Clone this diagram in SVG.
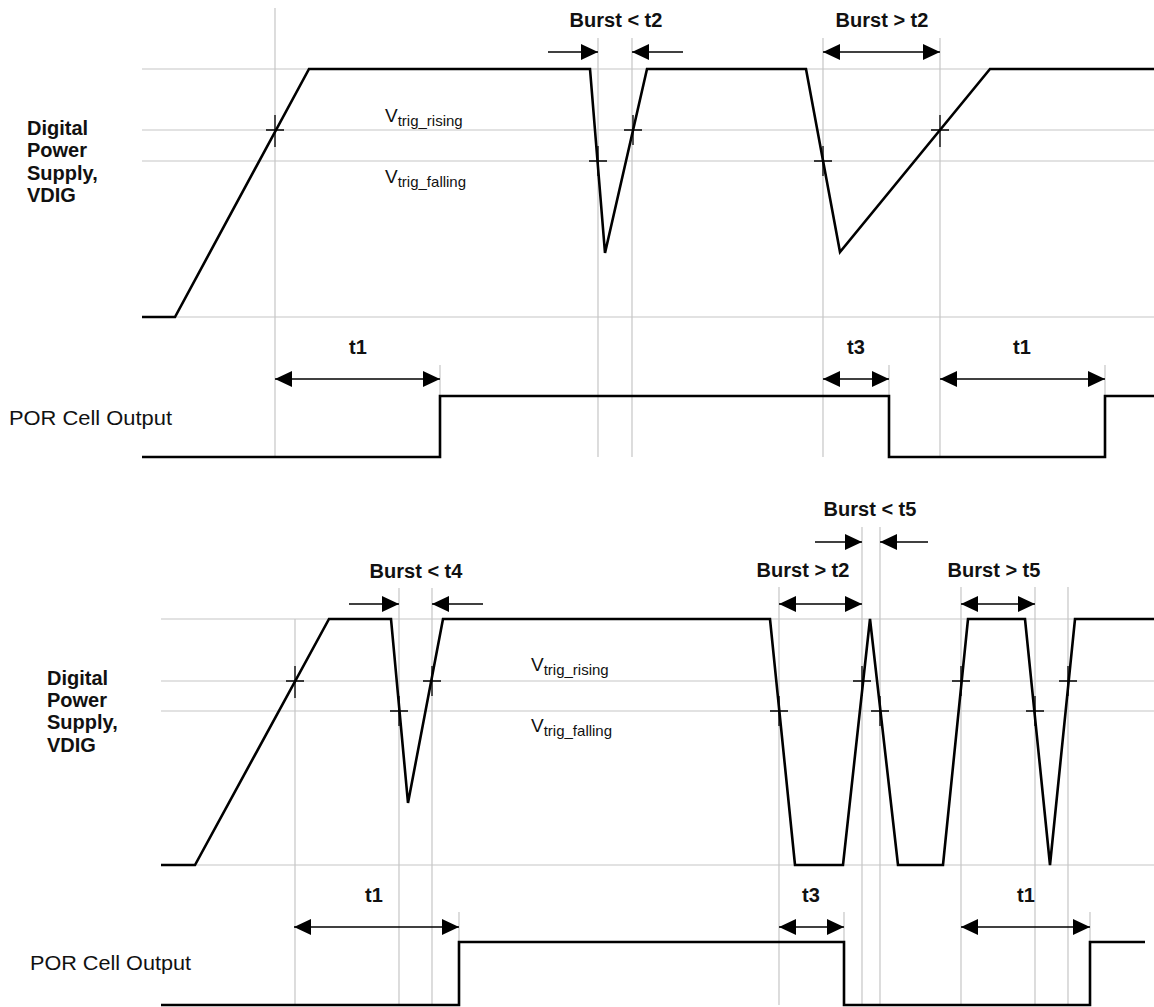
<svg xmlns="http://www.w3.org/2000/svg" width="1154" height="1007" viewBox="0 0 1154 1007">
<style>
.grid{stroke:#c6c6c6;stroke-width:1.2;fill:none}
.sig{stroke:#000;stroke-width:2.6;fill:none;stroke-linejoin:miter}
.tick{stroke:#000;stroke-width:1.3;fill:none}
.arr{stroke:#000;stroke-width:1.7;fill:none}
.lbl{font-family:"Liberation Sans",Arial,sans-serif;font-size:20px;font-weight:bold;fill:#111}
.por{font-family:"Liberation Sans",Arial,sans-serif;font-size:20px;fill:#111}
.v{font-family:"Liberation Sans",Arial,sans-serif;font-size:19px;fill:#111}
.sub{font-size:15px}
</style>
<defs>
<marker id="ah" viewBox="0 0 17 16" refX="17" refY="8" markerWidth="17" markerHeight="16" markerUnits="userSpaceOnUse" orient="auto-start-reverse">
<path d="M0,0 L17,8 L0,16 z" fill="#000"/>
</marker>
</defs>
<rect width="1154" height="1007" fill="#fff"/>

<g id="top-grid" class="grid">
<path d="M142,69H1154M142,130H1154M142,161H1154M142,317H1154"/>
<path d="M275,8V457M598,38V457M632,38V457M823,38V457M940,38V457"/>
<path d="M440,365V396M889,365V396M1105,365V396"/>
</g>
<g id="bottom-grid" class="grid">
<path d="M161,619H1154M161,681H1154M161,711H1154M161,865H1154"/>
<path d="M295,619V1005M399,588V1005M432,588V1005M779,587V1005M862,527V1005M880,527V1005M961,587V1005M1035,587V1005M1068,587V1005"/>
<path d="M459,912V942M844,912V942M1090,912V942"/>
</g>

<g id="top-vdig">
<path class="sig" d="M142,317L175,317L309,69L590,69L605,253L647,69L806,69L840,252L990,69L1154,69"/>
<path class="tick" d="M266,130h18M275,115v32M589,161h18M598,146v30M624,130h18M633,115v30M814,161h18M823,146v30M931,130h18M940,115v32"/>
</g>
<g id="top-por">
<path class="sig" d="M142,457L440,457L440,396L889,396L889,457L1105,457L1105,396L1154,396"/>
</g>
<g id="bottom-vdig">
<path class="sig" d="M161,865L195,865L329,619L391,619L408,803L443,619L770,619L795,865L843,865L870,619L898,865L943,865L968,619L1025,619L1050,865L1075,619L1154,619"/>
<path class="tick" d="M286,681h18M295,666v32M390,711h18M399,696v30M423,681h18M432,666v30M770,711h18M779,696v30M853,681h18M862,666v30M871,711h18M880,696v30M952,681h18M961,666v30M1026,711h18M1035,696v30M1059,681h18M1068,666v30"/>
</g>
<g id="bottom-por">
<path class="sig" d="M161,1005L459,1005L459,942L844,942L844,1005L1090,1005L1090,942L1145,942"/>
</g>

<g id="connectors">
<line class="arr" x1="548" y1="52" x2="598" y2="52" marker-end="url(#ah)"/>
<line class="arr" x1="683" y1="52" x2="632" y2="52" marker-end="url(#ah)"/>
<line class="arr" x1="823" y1="52" x2="940" y2="52" marker-start="url(#ah)" marker-end="url(#ah)"/>
<line class="arr" x1="275" y1="379" x2="440" y2="379" marker-start="url(#ah)" marker-end="url(#ah)"/>
<line class="arr" x1="823" y1="379" x2="889" y2="379" marker-start="url(#ah)" marker-end="url(#ah)"/>
<line class="arr" x1="940" y1="379" x2="1105" y2="379" marker-start="url(#ah)" marker-end="url(#ah)"/>
<line class="arr" x1="349" y1="604" x2="399" y2="604" marker-end="url(#ah)"/>
<line class="arr" x1="483" y1="604" x2="432" y2="604" marker-end="url(#ah)"/>
<line class="arr" x1="815" y1="542" x2="862" y2="542" marker-end="url(#ah)"/>
<line class="arr" x1="928" y1="542" x2="880" y2="542" marker-end="url(#ah)"/>
<line class="arr" x1="779" y1="604" x2="862" y2="604" marker-start="url(#ah)" marker-end="url(#ah)"/>
<line class="arr" x1="961" y1="604" x2="1035" y2="604" marker-start="url(#ah)" marker-end="url(#ah)"/>
<line class="arr" x1="294" y1="927" x2="459" y2="927" marker-start="url(#ah)" marker-end="url(#ah)"/>
<line class="arr" x1="779" y1="927" x2="844" y2="927" marker-start="url(#ah)" marker-end="url(#ah)"/>
<line class="arr" x1="961" y1="927" x2="1090" y2="927" marker-start="url(#ah)" marker-end="url(#ah)"/>
</g>

<g id="labels">
<text class="lbl" x="27" y="135">Digital</text>
<text class="lbl" x="27" y="157">Power</text>
<text class="lbl" x="27" y="180">Supply,</text>
<text class="lbl" x="27" y="202">VDIG</text>
<text class="lbl" x="47" y="685">Digital</text>
<text class="lbl" x="47" y="707">Power</text>
<text class="lbl" x="47" y="729">Supply,</text>
<text class="lbl" x="47" y="752">VDIG</text>
<text class="por" x="9" y="425" textLength="163" lengthAdjust="spacingAndGlyphs">POR Cell Output</text>
<text class="por" x="30" y="970" textLength="161" lengthAdjust="spacingAndGlyphs">POR Cell Output</text>
<text class="v" x="385" y="122">V<tspan class="sub" dy="4">trig_rising</tspan></text>
<text class="v" x="385" y="183">V<tspan class="sub" dy="4">trig_falling</tspan></text>
<text class="v" x="531" y="671">V<tspan class="sub" dy="4">trig_rising</tspan></text>
<text class="v" x="531" y="732">V<tspan class="sub" dy="4">trig_falling</tspan></text>
<g text-anchor="middle">
<text class="lbl" x="616" y="27">Burst &lt; t2</text>
<text class="lbl" x="882" y="27">Burst &gt; t2</text>
<text class="lbl" x="358" y="354">t1</text>
<text class="lbl" x="856" y="354">t3</text>
<text class="lbl" x="1022" y="354">t1</text>
<text class="lbl" x="416" y="578">Burst &lt; t4</text>
<text class="lbl" x="870" y="516">Burst &lt; t5</text>
<text class="lbl" x="803" y="577">Burst &gt; t2</text>
<text class="lbl" x="994" y="577">Burst &gt; t5</text>
<text class="lbl" x="374" y="902">t1</text>
<text class="lbl" x="811" y="902">t3</text>
<text class="lbl" x="1026" y="902">t1</text>
</g>
</g>
</svg>
